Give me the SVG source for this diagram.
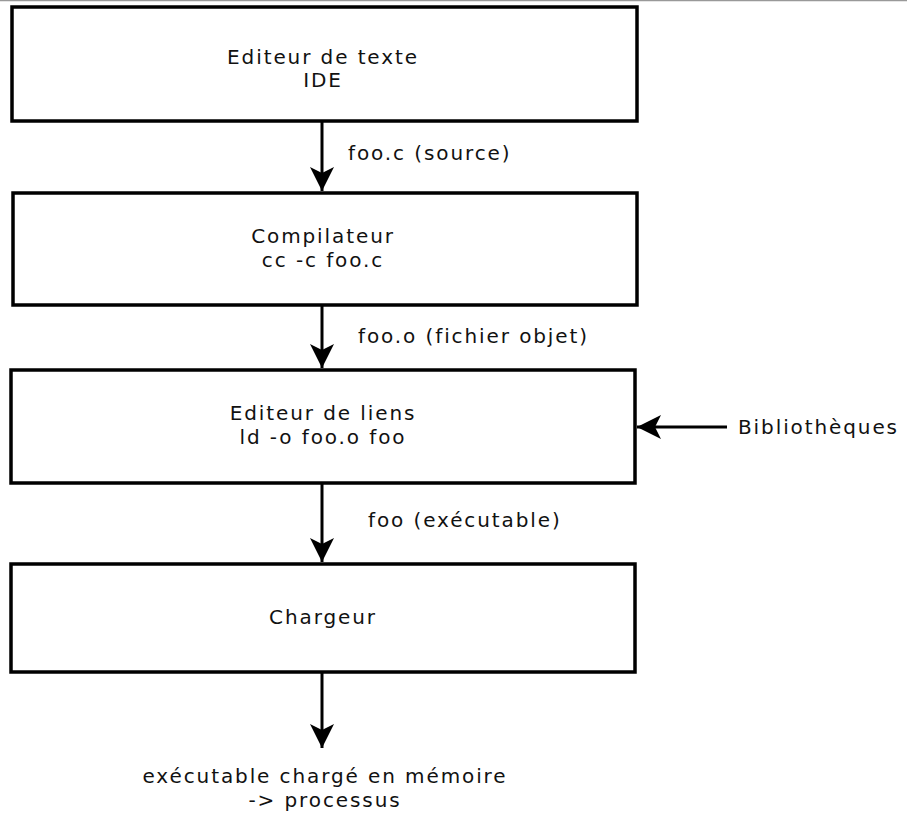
<svg xmlns="http://www.w3.org/2000/svg" width="907" height="823" viewBox="0 0 907 823">
  <style>
    .box { fill: #ffffff; stroke: #000000; stroke-width: 3.5; }
    .conn { fill: none; stroke: #000000; stroke-width: 3; }
    .lbl { font-family: "DejaVu Sans", "Liberation Sans", sans-serif; font-size: 20px; fill: #111111; letter-spacing: 1.9px; }
    .mid { text-anchor: middle; }
  </style>
  <defs>
    <marker id="ah" viewBox="-25 -13 27 26" refX="0" refY="0" markerWidth="27" markerHeight="26" markerUnits="userSpaceOnUse" orient="auto">
      <path d="M0,0 L-24,-12 L-18,0 L-24,12 Z" fill="#000000"/>
    </marker>
  </defs>
  <rect x="0" y="0" width="907" height="823" fill="#ffffff"/>
  <line x1="0" y1="0.5" x2="907" y2="0.5" stroke="#999999" stroke-width="1.5"/>

  <g id="editeur-texte">
    <rect class="box" x="12" y="7" width="625" height="114"/>
    <text class="lbl mid" x="323" y="64">Editeur de texte</text>
    <text class="lbl mid" x="323" y="87">IDE</text>
  </g>
  <g id="compilateur">
    <rect class="box" x="13" y="193" width="624" height="112"/>
    <text class="lbl mid" x="323" y="243">Compilateur</text>
    <text class="lbl mid" x="323" y="267">cc -c foo.c</text>
  </g>
  <g id="editeur-liens">
    <rect class="box" x="11" y="370" width="624" height="113"/>
    <text class="lbl mid" x="323" y="420">Editeur de liens</text>
    <text class="lbl mid" x="323" y="444">ld -o foo.o foo</text>
  </g>
  <g id="chargeur">
    <rect class="box" x="11" y="564" width="624" height="108"/>
    <text class="lbl mid" x="323" y="624">Chargeur</text>
  </g>
  <g id="bibliotheques">
    <text class="lbl" x="738" y="434">Bibliothèques</text>
  </g>
  <g id="processus">
    <text class="lbl mid" x="325" y="783">exécutable chargé en mémoire</text>
    <text class="lbl mid" x="325" y="807">-&gt; processus</text>
  </g>

  <g id="connecteurs">
    <line class="conn" x1="322" y1="121" x2="322" y2="191" marker-end="url(#ah)"/>
    <text class="lbl" x="348" y="160">foo.c (source)</text>
    <line class="conn" x1="322" y1="305" x2="322" y2="368" marker-end="url(#ah)"/>
    <text class="lbl" x="358" y="343">foo.o (fichier objet)</text>
    <line class="conn" x1="322" y1="483" x2="322" y2="562" marker-end="url(#ah)"/>
    <text class="lbl" x="368" y="527">foo (exécutable)</text>
    <line class="conn" x1="322" y1="672" x2="322" y2="748" marker-end="url(#ah)"/>
    <line class="conn" x1="727" y1="427" x2="637" y2="427" marker-end="url(#ah)"/>
  </g>
</svg>
